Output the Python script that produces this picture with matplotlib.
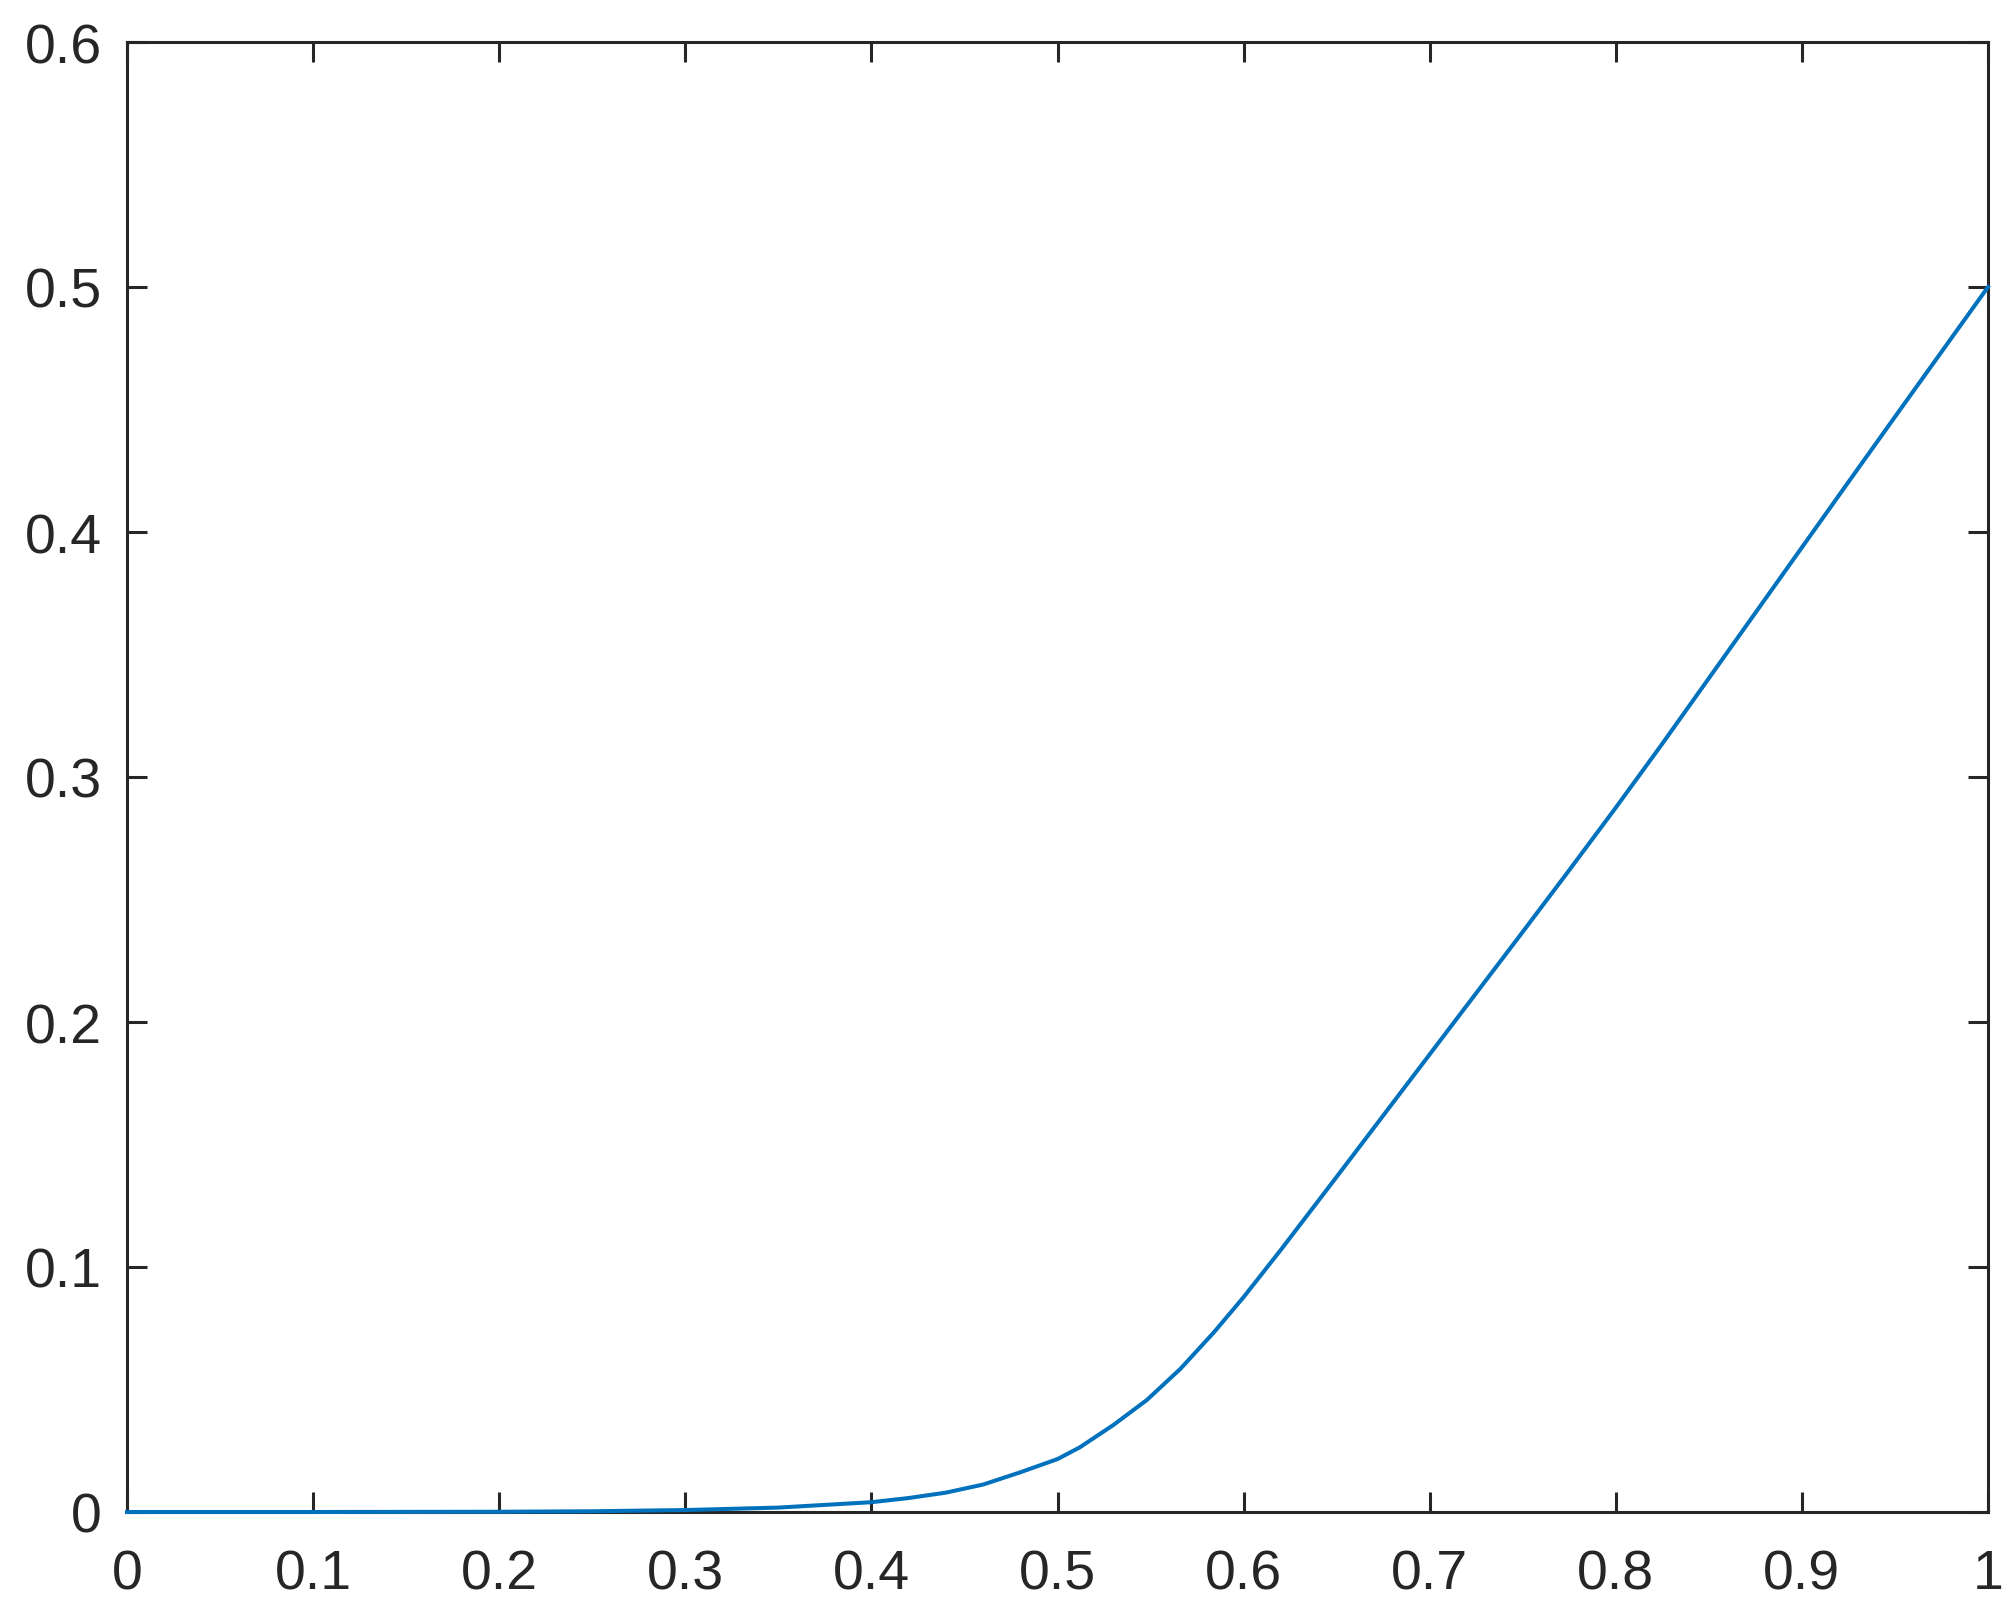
import matplotlib
matplotlib.use("Agg")
import matplotlib.pyplot as plt

# values
x_vals = [0.0, 0.1, 0.2, 0.25, 0.3, 0.35, 0.4, 0.42, 0.44, 0.46, 0.48, 0.5,
          0.512, 0.53, 0.548, 0.566, 0.584, 0.6, 0.62, 0.65, 0.7, 0.75,
          0.775, 0.8, 0.825, 0.85, 0.875, 0.9, 0.925, 0.95, 0.975, 1.0]
y_vals = [0.0, 0.0, 0.0001, 0.0003, 0.0008, 0.0018, 0.0040, 0.0057, 0.0079,
          0.0112, 0.0162, 0.0216, 0.0264, 0.0355, 0.0457, 0.0584, 0.0733,
          0.0877, 0.1070, 0.1368, 0.1868, 0.2368, 0.2620, 0.2875, 0.3136,
          0.3403, 0.3670, 0.3937, 0.4204, 0.4470, 0.4735, 0.5000]
x_ticks = [0, 0.1, 0.2, 0.3, 0.4, 0.5, 0.6, 0.7, 0.8, 0.9, 1]
x_tick_labels = ["0", "0.1", "0.2", "0.3", "0.4", "0.5", "0.6", "0.7", "0.8", "0.9", "1"]
y_ticks = [0, 0.1, 0.2, 0.3, 0.4, 0.5, 0.6]
y_tick_labels = ["0", "0.1", "0.2", "0.3", "0.4", "0.5", "0.6"]

plt.rcParams['font.family'] = ['Liberation Sans', 'DejaVu Sans']

AX_COLOR = "#262626"
fig = plt.figure(figsize=(10.08, 8.075), dpi=200)
ax = fig.add_axes([127 / 2016, (1615 - 1513) / 1615, (1988 - 127) / 2016, (1513 - 43) / 1615])

ax.plot(x_vals, y_vals, color="#0072BD", linewidth=1.45, zorder=3, clip_on=False)

ax.set_xlim(0, 1)
ax.set_ylim(0, 0.6)
ax.set_xticks(x_ticks)
ax.set_xticklabels(x_tick_labels)
ax.set_yticks(y_ticks)
ax.set_yticklabels(y_tick_labels)

for s in ax.spines.values():
    s.set_color(AX_COLOR)
    s.set_linewidth(1.1)

ax.tick_params(axis='both', which='major', direction='in', length=7.2, width=1.1,
               color=AX_COLOR, labelcolor=AX_COLOR, labelsize=20,
               top=True, right=True)
ax.tick_params(axis='x', pad=13)
ax.tick_params(axis='y', pad=9)

fig.savefig("out.png", dpi=200, facecolor="white")
